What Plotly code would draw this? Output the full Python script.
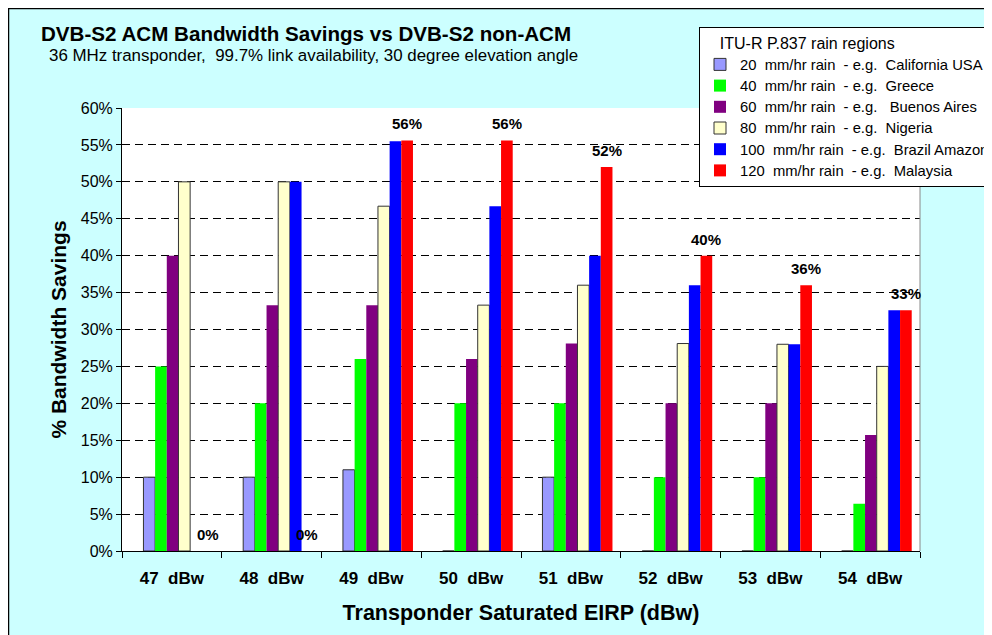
import plotly.graph_objects as go

categories = ["47\u00a0 dBw", "48\u00a0 dBw", "49\u00a0 dBw", "50\u00a0 dBw",
              "51\u00a0 dBw", "52\u00a0 dBw", "53\u00a0 dBw", "54\u00a0 dBw"]

series_names = [
    "20\u00a0 mm/hr rain\u00a0 - e.g.\u00a0 California USA",
    "40\u00a0 mm/hr rain\u00a0 - e.g.\u00a0 Greece",
    "60\u00a0 mm/hr rain\u00a0 - e.g.\u00a0\u00a0 Buenos Aires",
    "80\u00a0 mm/hr rain\u00a0 - e.g.\u00a0 Nigeria",
    "100\u00a0 mm/hr rain\u00a0 - e.g.\u00a0 Brazil Amazon",
    "120\u00a0 mm/hr rain\u00a0 - e.g.\u00a0 Malaysia",
]

rain20 = [10, 10, 11, 0, 10, 0, 0, 0]
rain40 = [25, 20, 26, 20, 20, 10, 10, 6.4]
rain60 = [40, 33.3, 33.3, 26, 28.1, 20, 20, 15.7]
rain80 = [50, 50, 46.7, 33.3, 36, 28.1, 28, 25]
rain100 = [0, 50, 55.5, 46.7, 40, 36, 28, 32.6]
rain120 = [0, 0, 55.6, 55.6, 52, 40, 36, 32.6]

series_values = [rain20, rain40, rain60, rain80, rain100, rain120]
colors = ["#9999FF", "#00FF00", "#800080", "#FFFFCC", "#0000FF", "#FF0000"]
outlined = [True, False, False, True, False, False]

FONT = "Liberation Sans, Arial"
bar_w = 0.117
start = -0.285

# page offset (browser body margin) and figure geometry
OFF = 8
W, H = 992 - OFF, 635 - OFF
L, R, T, B = 114, 72, 100, 84
pw, ph = W - L - R, H - T - B


def px_x(xr):
    return (xr - OFF - L) / pw


def px_y(yr):
    return (H - B - (yr - OFF)) / ph


fig = go.Figure()
for i, (name, vals, col, ol) in enumerate(zip(series_names, series_values, colors, outlined)):
    fig.add_trace(go.Bar(
        x=categories, y=vals,
        name="<span style='font-size:14.8px'>%s</span>" % name,
        marker=dict(color=col, line=dict(color="#333333" if ol else col, width=1 if ol else 0)),
        width=bar_w, offset=start + i * bar_w,
    ))

# labels above the 120 mm/hr bars
red_center_shift = (start + 5.5 * bar_w) * (pw / 8)
for c, v in zip(categories, rain120):
    fig.add_annotation(x=c, y=v, text="<b>%d%%</b>" % round(v), showarrow=False,
                       xref="x", yref="y", xshift=red_center_shift, yshift=6,
                       yanchor="bottom", font=dict(family=FONT, size=15, color="black"))

fig.add_annotation(x=px_x(39), y=px_y(33), xref="paper", yref="paper", xanchor="left", yanchor="middle",
                   text="<b>DVB-S2 ACM Bandwidth Savings vs DVB-S2 non-ACM</b>", showarrow=False,
                   font=dict(family=FONT, size=20.6, color="black"))
fig.add_annotation(x=px_x(47), y=px_y(56), xref="paper", yref="paper", xanchor="left", yanchor="middle",
                   text="36 MHz transponder,\u00a0 99.7% link availability, 30 degree elevation angle", showarrow=False,
                   font=dict(family=FONT, size=16.9, color="black"))

fig.add_shape(type="line", xref="paper", yref="paper", x0=px_x(8.5), x1=px_x(8.5), y0=px_y(6.5), y1=px_y(700),
              line=dict(color="black", width=1.5))
fig.add_shape(type="line", xref="paper", yref="paper", x0=px_x(8.5), x1=px_x(1100), y0=px_y(8.5), y1=px_y(8.5),
              line=dict(color="black", width=1.5))
fig.add_shape(type="line", xref="paper", yref="paper", x0=1, x1=1, y0=0, y1=1,
              line=dict(color="#888888", width=1))

fig.update_layout(
    width=W, height=H,
    margin=dict(l=L, r=R, t=T, b=B, autoexpand=False),
    paper_bgcolor="#CCFFFF", plot_bgcolor="white",
    barmode="overlay",
    font=dict(family=FONT, size=14, color="black"),
    showlegend=True,
    legend=dict(
        x=px_x(699), y=px_y(27), xanchor="left", yanchor="top",
        bgcolor="white", bordercolor="black", borderwidth=1,
        font=dict(family=FONT, size=14, color="black"),
        title=dict(text="\u00a0\u00a0\u00a0\u00a0ITU-R P.837 rain regions", font=dict(size=16)),
        itemwidth=30, tracegroupgap=0,
    ),
    xaxis=dict(
        type="category", tickson="boundaries", ticks="outside", ticklen=6, tickcolor="black",
        showline=True, linecolor="black", linewidth=1, showgrid=False,
        tickfont=dict(family=FONT, size=17, color="black", weight="bold"),
        ticklabelstandoff=12,
        title=dict(text="<b>Transponder Saturated EIRP (dBw)</b>", standoff=17,
                   font=dict(family=FONT, size=21.5, color="black")),
        range=[-0.5, 7.5],
    ),
    yaxis=dict(
        range=[0, 60], dtick=5, ticksuffix="%", ticks="outside", ticklen=5, tickcolor="black",
        showline=True, linecolor="black", linewidth=1,
        showgrid=True, gridcolor="black", gridwidth=1, griddash="8px,5px", zeroline=False,
        tickfont=dict(family=FONT, size=16, color="black"),
        title=dict(text="<b>% Bandwidth Savings</b>", standoff=8,
                   font=dict(family=FONT, size=21, color="black")),
    ),
)

fig.write_html("out.html")
